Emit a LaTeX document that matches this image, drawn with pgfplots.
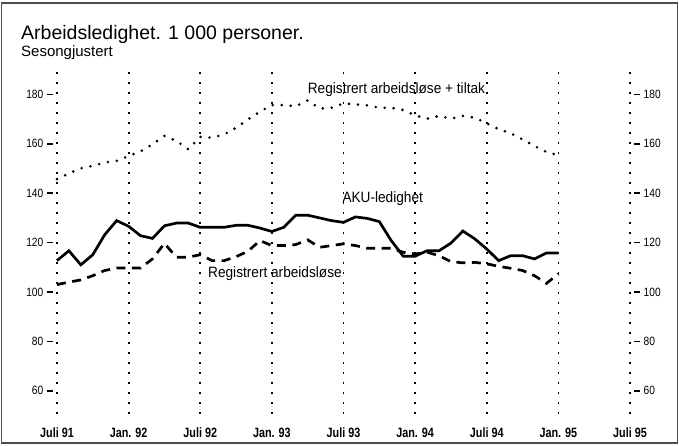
\documentclass[border=0pt]{standalone}
\usepackage{pgfplots}
\pgfplotsset{compat=1.18}
\usepackage{fontspec}
\setmainfont{Liberation Sans}
\newfontfamily\narrow[FakeStretch=0.85]{Liberation Sans}
\newfontfamily\narrowb[FakeStretch=0.8]{Liberation Sans Bold}
\newfontfamily\lab[FakeStretch=0.91]{Liberation Sans}

\pgfplotstableread{
m v
0 112.7
1 116.7
2 111.0
3 115.1
4 123.2
5 128.9
6 126.6
7 122.8
8 121.7
9 126.8
10 127.9
11 127.9
12 126.2
13 126.2
14 126.2
15 127.0
16 127.0
17 125.9
18 124.5
19 126.2
20 131.1
21 131.1
22 130.0
23 128.9
24 128.2
25 130.4
26 129.8
27 128.5
28 120.8
29 114.5
30 114.5
31 116.7
32 116.7
33 119.8
34 124.7
35 121.5
36 117.4
37 112.7
38 114.7
39 114.7
40 113.4
41 115.8
42 115.8
}\aku

\pgfplotstableread{
m v
0 103.0
1 104.0
2 104.9
3 106.6
4 108.7
5 109.7
6 109.7
7 109.7
8 113.4
9 119.7
10 114.1
11 114.1
12 115.1
13 112.7
14 112.7
15 114.3
16 116.5
17 120.8
18 118.8
19 118.8
20 119.2
21 121.1
22 118.1
23 118.8
24 119.5
25 118.8
26 117.7
27 117.7
28 117.7
29 116.1
30 115.4
31 116.1
32 114.7
33 112.3
34 111.8
35 112.0
36 111.4
37 110.4
38 109.6
39 108.7
40 106.6
41 103.5
42 107.3
}\reg

\pgfplotstableread{
m v
0 145.7
1 148.0
2 150.1
3 151.1
4 152.4
5 153.1
6 155.1
7 156.9
8 159.8
9 163.2
10 161.2
11 157.8
12 162.8
13 162.5
14 163.8
15 166.5
16 169.9
17 173.0
18 175.7
19 175.7
20 175.2
21 177.6
22 174.3
23 174.6
24 176.3
25 176.0
26 175.6
27 174.6
28 174.6
29 173.7
30 171.5
31 170.2
32 171.3
33 170.2
34 171.3
35 170.6
36 168.3
37 165.9
38 164.3
39 161.8
40 159.1
41 156.7
42 155.4
}\regtiltak

\begin{document}
\begin{tikzpicture}[x=1bp,y=1bp]
\useasboundingbox (0,0) rectangle (679,446);
\draw[gray!60!black, line width=1.2bp] (1.5,3) rectangle (677.5,443);
\node[anchor=base west, inner sep=0, font=\fontsize{19.5bp}{22bp}\selectfont] at (21,406) {Arbeidsledighet. 1 000 personer.};
\node[anchor=base west, inner sep=0, font=\fontsize{15bp}{17bp}\selectfont] at (21,389) {Sesongjustert};

\begin{axis}[
  at={(52.8bp,32bp)}, anchor=south west,
  scale only axis, width=581.4bp, height=344bp,
  xmin=-0.35, xmax=48.35, ymin=50.6, ymax=189.9,
  axis line style={draw=none},
  xtick={0,6,...,48},
  xticklabels={Juli 91,Jan. 92,Juli 92,Jan. 93,Juli 93,Jan. 94,Juli 94,Jan. 95,Juli 95},
  xtick style={draw=none},
  xmajorgrids,
  major grid style={black, line width=1.8bp, dash pattern=on 1.8bp off 8.2bp},
  ytick={60,80,...,180},
  ytick pos=left,
  tick align=outside,
  major tick length=6bp,
  ytick style={black, line width=1.5bp},
  /pgf/number format/assume math mode=true,
  yticklabel style={font=\narrow\fontsize{12bp}{14bp}\selectfont},
  xticklabel style={font=\narrowb\fontsize{13.5bp}{15bp}\selectfont, text height=10bp, text depth=0bp, yshift=-4bp},
  clip=false,
]
\addplot[black, line width=2.7bp] table[x=m,y=v] {\aku};
\addplot[black, line width=2.7bp, dash pattern=on 9bp off 6.5bp] table[x=m,y=v] {\reg};
\addplot[black, line width=2.9bp, line cap=round, dash pattern=on 0bp off 9bp] table[x=m,y=v] {\regtiltak};
\node[anchor=base west, inner sep=0, font=\lab\fontsize{15bp}{17bp}\selectfont] at (axis cs:21.0,180.3) {Registrert arbeidsløse + tiltak};
\node[anchor=base west, inner sep=0, font=\lab\fontsize{15bp}{17bp}\selectfont] at (axis cs:23.9,136.2) {AKU-ledighet};
\node[anchor=base west, inner sep=0, font=\lab\fontsize{15bp}{17bp}\selectfont] at (axis cs:12.65,105.8) {Registrert arbeidsløse};
\end{axis}

\begin{axis}[
  at={(52.8bp,32bp)}, anchor=south west,
  scale only axis, width=581.4bp, height=344bp,
  xmin=-0.35, xmax=48.35, ymin=50.6, ymax=189.9,
  axis line style={draw=none},
  xtick=\empty,
  ytick={60,80,...,180},
  ytick pos=right, yticklabel pos=right,
  tick align=outside,
  major tick length=6bp,
  ytick style={black, line width=1.5bp},
  /pgf/number format/assume math mode=true,
  yticklabel style={font=\narrow\fontsize{12bp}{14bp}\selectfont},
]
\end{axis}
\end{tikzpicture}
\end{document}
